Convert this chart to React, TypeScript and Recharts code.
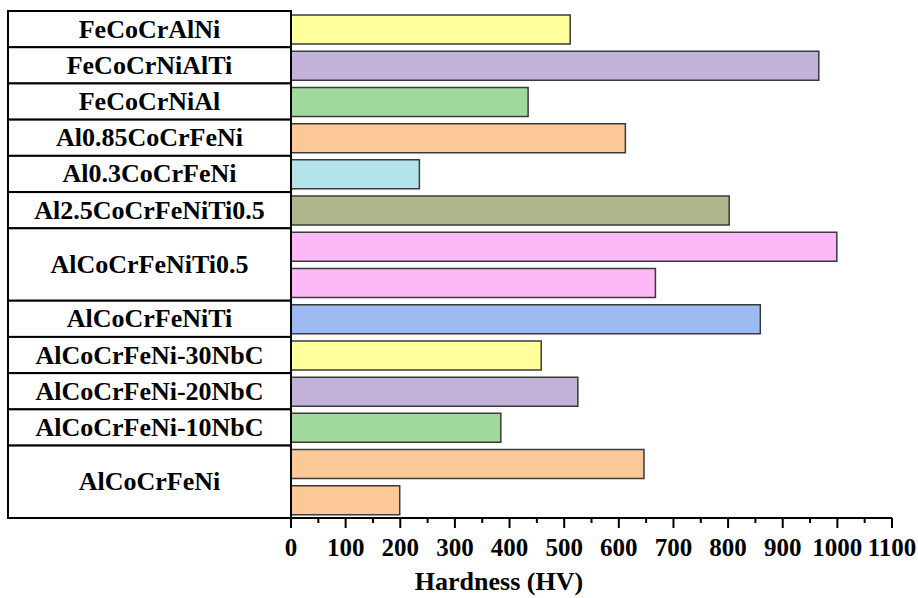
import React from 'react';
import { BarChart, Bar, XAxis, YAxis, Cell, Label } from 'recharts';

// ---- data ----
const rowIds = ['r1', 'r2', 'r3', 'r4', 'r5', 'r6', 'r7', 'r8', 'r9', 'r10', 'r11', 'r12', 'r13', 'r14'];
const hardness = [511, 966, 434, 612, 235, 802, 999, 667, 859, 458, 525, 384, 646, 199];
const barColors = [
  '#FFFF9C', '#C3B2D7', '#A0D99C', '#FDC897', '#B4E4EA', '#B0B58D', '#FDB8F8',
  '#FDB8F8', '#9DBAF1', '#FFFF9C', '#C3B2D7', '#A0D99C', '#FDC897', '#FDC897',
];
const groupLabels = [
  'FeCoCrAlNi', 'FeCoCrNiAlTi', 'FeCoCrNiAl', 'Al0.85CoCrFeNi', 'Al0.3CoCrFeNi',
  'Al2.5CoCrFeNiTi0.5', 'AlCoCrFeNiTi0.5', 'AlCoCrFeNiTi', 'AlCoCrFeNi-30NbC',
  'AlCoCrFeNi-20NbC', 'AlCoCrFeNi-10NbC', 'AlCoCrFeNi',
];
const groupSpans = [1, 1, 1, 1, 1, 1, 2, 1, 1, 1, 1, 2];
const xTicks = [0, 50, 100, 150, 200, 250, 300, 350, 400, 450, 500, 550, 600, 650, 700, 750, 800, 850, 900, 950, 1000, 1050, 1100];
const axisTitle = 'Hardness (HV)';

const data = rowIds.map((row, i) => ({ row, hardness: hardness[i] }));

// map row index -> group start info
const groupStart: Record<number, { label: string; span: number }> = {};
{
  let r = 0;
  groupLabels.forEach((label, g) => {
    groupStart[r] = { label, span: groupSpans[g] };
    r += groupSpans[g];
  });
}

// ---- layout ----
const W = 918;
const H = 598;
const M = { top: 11, right: 26, left: 8, bottom: 0 };
const YAXIS_W = 283;
const XAXIS_H = 80;
const BAND = (H - M.top - M.bottom - XAXIS_H) / rowIds.length;
const FONT = '"Liberation Serif", "Times New Roman", Times, serif';

const TableTick = (props: any) => {
  const { y, payload, index } = props;
  const idx = payload && typeof payload.index === 'number' ? payload.index : index;
  const g = groupStart[idx];
  if (!g) return <g />;
  const top = y - BAND / 2;
  const h = BAND * g.span;
  return (
    <g>
      <rect x={M.left} y={top} width={YAXIS_W} height={h} fill="#ffffff" stroke="#000" strokeWidth={2} />
      <text
        x={M.left + YAXIS_W / 2}
        y={top + h / 2}
        textAnchor="middle"
        dominantBaseline="central"
        fontFamily={FONT}
        fontWeight="bold"
        fontSize={26}
        fill="#000"
      >
        {g.label}
      </text>
    </g>
  );
};

const XTick = (props: any) => {
  const { x, y, payload } = props;
  const v = payload.value as number;
  const major = v % 100 === 0;
  return (
    <g>
      <line x1={x} x2={x} y1={y} y2={y + (major ? 10 : 5)} stroke="#000" strokeWidth={2} />
      {major && (
        <text
          x={x}
          y={y + 38}
          textAnchor="middle"
          fontFamily={FONT}
          fontWeight="bold"
          fontSize={25}
          fill="#000"
        >
          {v}
        </text>
      )}
    </g>
  );
};

const TitleLabel = (props: any) => {
  const vb = props.viewBox || {};
  return (
    <text
      x={vb.x + vb.width * 0.346}
      y={vb.y + 72}
      textAnchor="middle"
      fontFamily={FONT}
      fontWeight="bold"
      fontSize={26}
      fill="#000"
    >
      {axisTitle}
    </text>
  );
};

export default function App() {
  return (
    <div style={{ position: 'absolute', left: 0, top: 0, width: W, height: H, background: '#fff' }}>
      <BarChart width={W} height={H} data={data} layout="vertical" margin={M}>
        <XAxis
          type="number"
          domain={[0, 1100]}
          ticks={xTicks}
          interval={0}
          tickLine={false}
          tickSize={0}
          tickMargin={0}
          axisLine={{ stroke: '#000', strokeWidth: 2 }}
          height={XAXIS_H}
          tick={<XTick />}
        >
          <Label content={<TitleLabel />} />
        </XAxis>
        <YAxis
          type="category"
          dataKey="row"
          width={YAXIS_W}
          interval={0}
          axisLine={false}
          tickLine={false}
          tick={<TableTick />}
        />
        <Bar dataKey="hardness" barSize={29} stroke="#3a3a3a" strokeWidth={1.5} isAnimationActive={false}>
          {data.map((d, i) => (
            <Cell key={d.row} fill={barColors[i]} />
          ))}
        </Bar>
      </BarChart>
    </div>
  );
}
